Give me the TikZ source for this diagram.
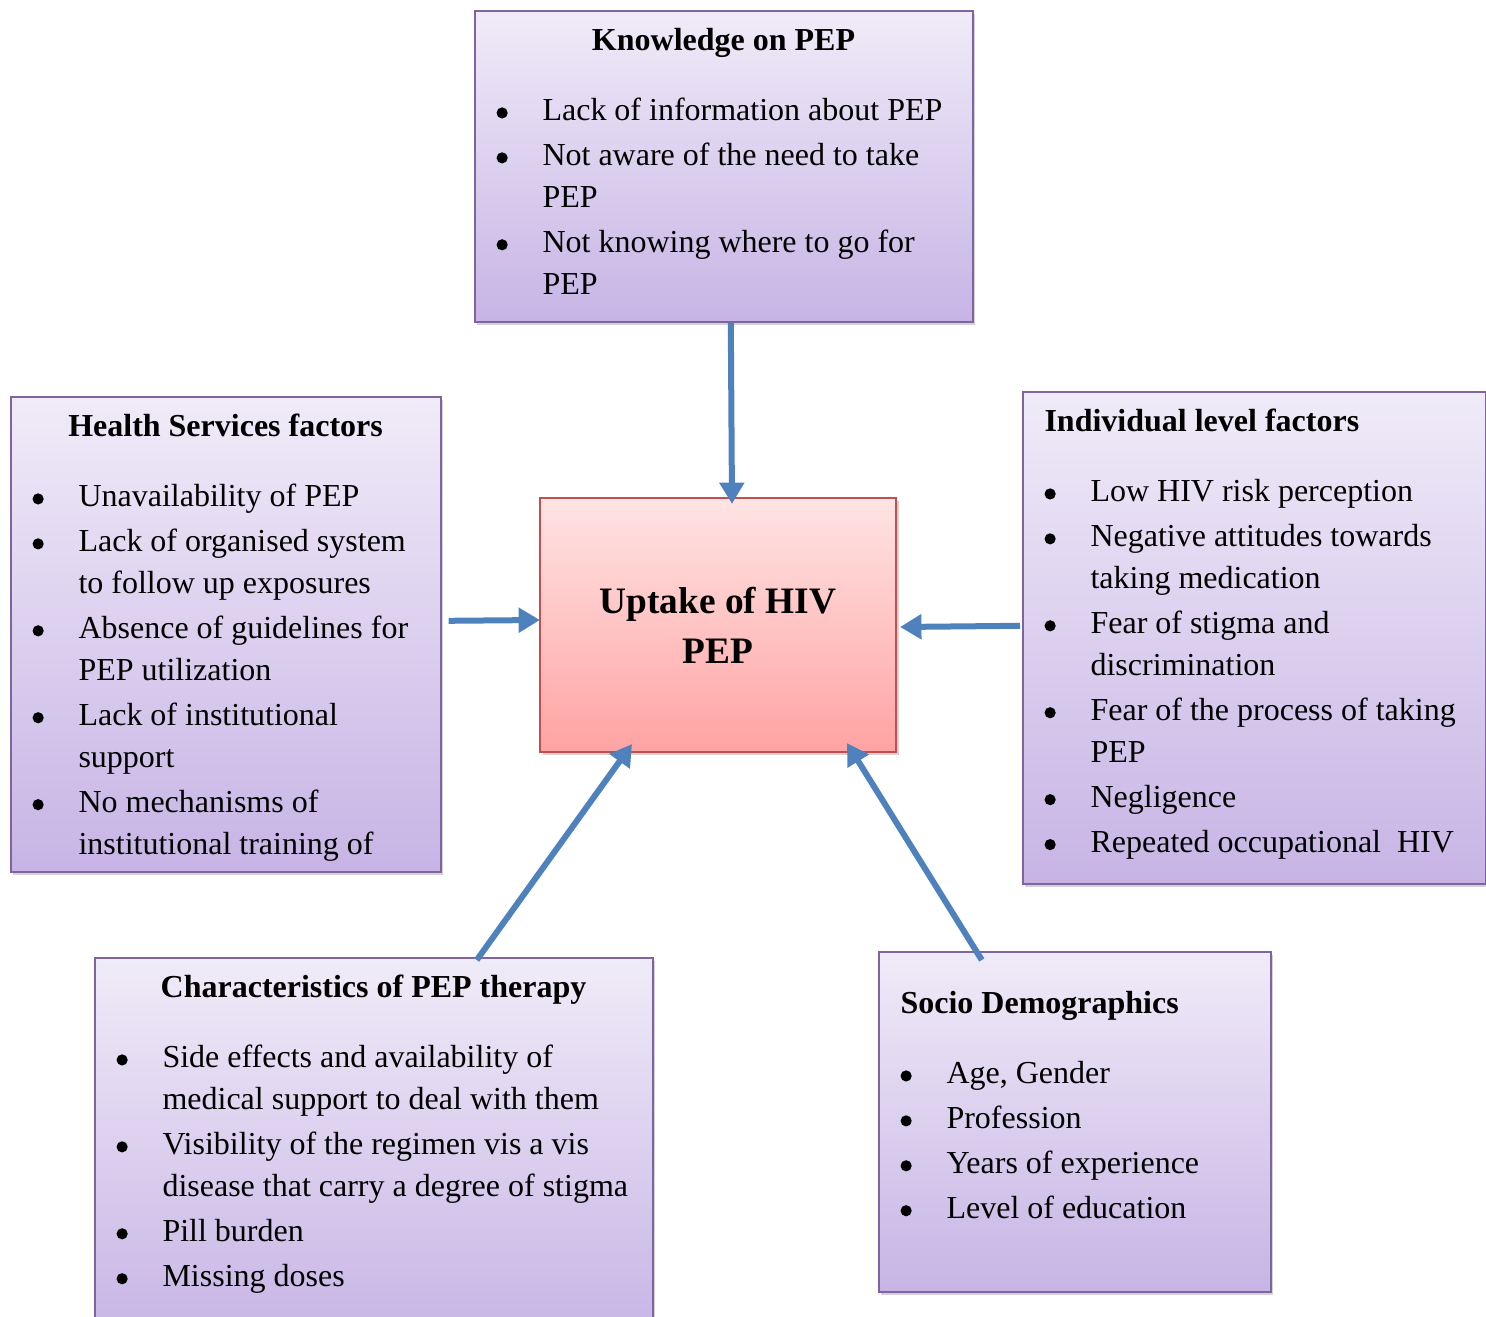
\documentclass[tikz,border=0pt]{standalone}
\usepackage{fontspec}
\setmainfont{Liberation Serif}
\usetikzlibrary{arrows.meta,positioning,calc,shadows}

\definecolor{boxTop}{HTML}{F0EBF8}
\definecolor{boxBot}{HTML}{C7B4E5}
\definecolor{boxLine}{HTML}{8064A2}
\definecolor{coreTop}{HTML}{FFE4E4}
\definecolor{coreBot}{HTML}{FFA3A3}
\definecolor{coreLine}{HTML}{C0504D}
\definecolor{arrBlue}{HTML}{4F81BD}

\protected\def\listsetup{\raggedright\hyphenpenalty=10000
  \spaceskip=3pt plus 1pt minus 0.5pt\parskip=1.1pt\relax}
\newcommand{\bdot}{\tikz[baseline=0pt]\fill (0pt,3pt) circle (2.1pt);}
\newcommand{\bitem}[1]{\noindent\hangindent=17.25pt\hangafter=1
  \makebox[17.25pt][l]{\bdot}#1\par}
% title centred on the box (the text block is 5.25pt wider on the right)
\newcommand{\boxtitle}[1]{\noindent\makebox[\dimexpr\linewidth-5.25pt\relax][c]{\strut\bfseries #1}\par\vspace{9.4pt}}
\newcommand{\lefttitle}[1]{{\noindent\strut\bfseries #1\par}\vspace{9.4pt}}

\begin{document}
\begin{tikzpicture}[
    x=0.375pt, y=-0.375pt,
    panel/.style={draw=boxLine, line width=0.6pt, top color=boxTop,
                  bottom color=boxBot, anchor=north west, inner sep=0pt,
                  drop shadow={shadow xshift=1pt, shadow yshift=-1.2pt, opacity=0.35}},
    core/.style={draw=coreLine, line width=0.8pt, top color=coreTop,
                 bottom color=coreBot, align=center,
                 font=\fontsize{14}{18.75}\selectfont\bfseries,
                 drop shadow={shadow xshift=1pt, shadow yshift=-1.2pt, opacity=0.35}},
    list/.style={inner sep=0pt, font=\fontsize{12}{15.75}\selectfont},
    arr/.style={-{Triangle[length=8pt, width=9pt]}, line width=2.25pt, draw=arrBlue}
  ]
  \useasboundingbox (0,0) rectangle (1486,1317);
  \clip (0,0) rectangle (1486,1317);

  % centre
  \node[core, minimum width=133.5pt, minimum height=95.25pt] (centre) at (718,625)
    {Uptake of HIV\\PEP};

  % knowledge
  \node[panel, minimum width=186.75pt, minimum height=116.625pt] (know) at (474,10) {};
  \node[list, text width=175.5pt, below right=4.125pt and 8.25pt of know.north west] (knowtxt) {\listsetup
    \boxtitle{Knowledge on PEP}
    \bitem{Lack of information about PEP}
    \bitem{Not aware of the need to take\newline PEP}
    \bitem{Not knowing where to go for\newline PEP}};

  % health services
  \node[panel, minimum width=161.25pt, minimum height=178.125pt] (health) at (10,396) {};
  \node[list, text width=150pt, below right=4.125pt and 8.25pt of health.north west] (healthtxt) {\listsetup
    \boxtitle{Health Services factors}
    \bitem{Unavailability of PEP}
    \bitem{Lack of organised system\newline to follow up exposures}
    \bitem{Absence of guidelines for\newline PEP utilization}
    \bitem{Lack of institutional\newline support}
    \bitem{No mechanisms of\newline institutional training of}};

  % individual
  \node[panel, minimum width=173.625pt, minimum height=184.5pt] (indiv) at (1022,391) {};
  \node[list, text width=162.375pt, below right=4.125pt and 8.25pt of indiv.north west] (indivtxt) {\listsetup
    \lefttitle{Individual level factors}
    \bitem{Low HIV risk perception}
    \bitem{Negative attitudes towards\newline taking medication}
    \bitem{Fear of stigma and\newline discrimination}
    \bitem{Fear of the process of taking\newline PEP}
    \bitem{Negligence}
    \bitem{Repeated occupational~\ HIV}};

  % PEP therapy
  \node[panel, minimum width=209.25pt, minimum height=143.625pt] (charact) at (94,957) {};
  \node[list, text width=198pt, below right=4.125pt and 8.25pt of charact.north west] (characttxt) {\listsetup
    \boxtitle{Characteristics of PEP therapy}
    \bitem{Side effects and availability of\newline medical support to deal with them}
    \bitem{Visibility of the regimen vis a vis\newline disease that carry a degree of stigma}
    \bitem{Pill burden}
    \bitem{Missing doses}};

  % socio demographics
  \node[panel, minimum width=147pt, minimum height=127.5pt] (socio) at (878,951) {};
  \node[list, text width=135.75pt, below right=12.375pt and 8.25pt of socio.north west] (sociotxt) {\listsetup
    \lefttitle{Socio Demographics}
    \bitem{Age, Gender}
    \bitem{Profession}
    \bitem{Years of experience}
    \bitem{Level of education}};

  \draw[arr] ($(know.south)+(7,0)$) -- ($(centre.north)+(14,7)$);
  \draw[arr] ($(health.east)+(7,-13.5)$) -- ($(centre.west)+(1,-5)$);
  \draw[arr] ($(indiv.west)+(-2,-12)$) -- ($(centre.east)+(3,2)$);
  \draw[arr] ($(charact.north)+(103,3)$) -- ($(centre.south)+(-86,-9)$);
  \draw[arr] ($(socio.north)+(-93,9)$) -- ($(centre.south)+(129,-10)$);
\end{tikzpicture}
\end{document}
